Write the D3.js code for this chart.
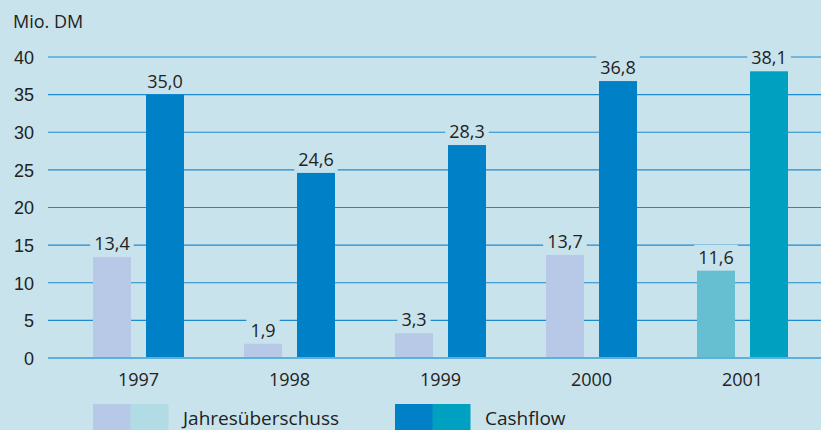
<!DOCTYPE html>
<html>
<head>
<meta charset="utf-8">
<script src="https://cdn.jsdelivr.net/npm/d3@7/dist/d3.min.js"></script>
<style>
  body { margin: 0; background: #c9e3ec; }
  svg { display: block; font-family: "Open Sans", "Noto Sans", sans-serif; }
  .lbl { fill: #222; font-size: 18px; }
</style>
</head>
<body>
<div class="chart"></div>
<script>
////////////////////
// DATA
////////////////////
var years = ['1997', '1998', '1999', '2000', '2001'];
var jahresueberschuss = [13.4, 1.9, 3.3, 13.7, 11.6];
var cashflow = [35.0, 24.6, 28.3, 36.8, 38.1];
var yTicks = [0, 5, 10, 15, 20, 25, 30, 35, 40];

var w = 821, h = 430;
var bg = '#c9e3ec';

var svg = d3.select('.chart').append('svg')
    .attr('width', w)
    .attr('height', h);

svg.append('rect').attr('width', w).attr('height', h).attr('fill', bg);

////////////////////
// SCALES
////////////////////
var x = d3.scaleBand().domain(years).range([63, 818]);
var y = d3.scaleLinear().domain([0, 40]).range([358, 57]);
var barW = 38, gap = 15;

function fmt(v) { return v.toFixed(1).replace('.', ','); }

////////////////////
// GRID + Y AXIS
////////////////////
var yAxis = d3.axisLeft(y).tickValues(yTicks).tickSize(0).tickPadding(0);
var ga = svg.append('g').attr('transform', 'translate(34,0)').call(yAxis);
ga.select('.domain').remove();
ga.selectAll('text').attr('class', 'lbl').attr('fill', null)
    .style('font-size', '18px').style('font-family', null).attr('dy', '0.35em');

svg.selectAll('.grid').data(yTicks.filter(function(d) { return d > 0; }))
    .enter().append('line')
    .attr('x1', 48).attr('x2', w)
    .attr('y1', function(d) { return y(d); })
    .attr('y2', function(d) { return y(d); })
    .attr('stroke', '#1e8bcf').attr('stroke-width', 1.2);

svg.append('text').attr('class', 'lbl')
    .attr('x', 13).attr('y', 28).text('Mio. DM');

////////////////////
// BARS
////////////////////
function lightCol(i) { return i === 4 ? '#66bed1' : '#b7c9e6'; }
function darkCol(i) { return i === 4 ? '#00a0c0' : '#0080c6'; }

var cx = function(d) { return x(d) + x.bandwidth() / 2; };

var series = [
  { vals: jahresueberschuss, col: lightCol, off: -gap / 2 - barW },
  { vals: cashflow, col: darkCol, off: gap / 2 }
];

series.forEach(function(s) {
    svg.selectAll(null).data(years).enter().append('rect')
        .attr('x', function(d) { return cx(d) + s.off; })
        .attr('y', function(d, i) { return y(s.vals[i]); })
        .attr('width', barW)
        .attr('height', function(d, i) { return y(0) - y(s.vals[i]); })
        .attr('fill', function(d, i) { return s.col(i); });
});

// zero line
svg.append('line')
    .attr('x1', 48).attr('x2', w)
    .attr('y1', y(0)).attr('y2', y(0))
    .attr('stroke', '#5eb0dc').attr('stroke-width', 2);

// value labels with knockout
series.forEach(function(s) {
    var g = svg.selectAll(null).data(years).enter().append('g')
        .attr('transform', function(d, i) {
            return 'translate(' + (cx(d) + s.off + barW / 2) + ',' + (y(s.vals[i]) - 7) + ')';
        });
    g.append('text').attr('class', 'lbl').attr('text-anchor', 'middle')
        .text(function(d, i) { return fmt(s.vals[i]); })
        .each(function() {
            var b = this.getBBox();
            d3.select(this.parentNode).insert('rect', 'text')
                .attr('x', b.x - 4).attr('y', b.y)
                .attr('width', b.width + 8).attr('height', b.height)
                .attr('fill', bg);
        });
});

////////////////////
// X LABELS
////////////////////
svg.selectAll(null).data(years).enter().append('text')
    .attr('class', 'lbl').attr('text-anchor', 'middle')
    .attr('x', cx).attr('y', 386)
    .text(function(d) { return d; });

////////////////////
// LEGEND
////////////////////
var legend = [
  { name: 'Jahresüberschuss', cols: ['#b7c9e6', '#b2dce4'], x: 93 },
  { name: 'Cashflow', cols: ['#0080c6', '#00a0c0'], x: 395 }
];
legend.forEach(function(l) {
    l.cols.forEach(function(c, j) {
        svg.append('rect').attr('x', l.x + j * 37.5).attr('y', 404)
            .attr('width', 38).attr('height', 26).attr('fill', c);
    });
    svg.append('text').attr('class', 'lbl').style('font-size', '19px')
        .attr('x', l.x + 90).attr('y', 425).text(l.name);
});
</script>
</body>
</html>
